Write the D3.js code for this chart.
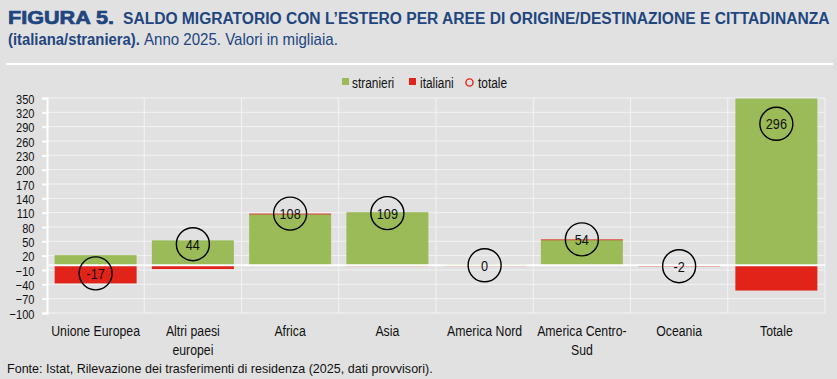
<!DOCTYPE html>
<html>
<head>
<meta charset="utf-8">
<script src="https://cdn.jsdelivr.net/npm/d3@7"></script>
<style>
  body { margin: 0; background: #e1e1e1; }
  svg { display: block; }
  text { font-family: "Liberation Sans", Arial, sans-serif; }
</style>
</head>
<body>
<svg id="chart" width="837" height="379"></svg>
<script>
// categories and series (thousands)
const categories = ["Unione Europea", "Altri paesi europei", "Africa", "Asia", "America Nord", "America Centro-Sud", "Oceania", "Totale"];
const categoryLines = [["Unione Europea"], ["Altri paesi", "europei"], ["Africa"], ["Asia"], ["America Nord"], ["America Centro-", "Sud"], ["Oceania"], ["Totale"]];
const stranieri = [21, 52, 107, 111, 2, 53, 0.4, 349];
const italiani = [-38, -8, 1, -2, -2, 1, -2.4, -53];
const totale = [-17, 44, 108, 109, 0, 54, -2, 296];
const yTicks = [350, 320, 290, 260, 230, 200, 170, 140, 110, 80, 50, 20, -10, -40, -70, -100];

const GREEN = "#9bbb59", RED = "#e2231a", BLUE = "#21467f";
const NARROW = 0.82;  // Arial Narrow look from Liberation Sans

const svg = d3.select("#chart");
const margin = { left: 47, right: 12, top: 98, bottom: 66 };
const W = 837, H = 379;

// squeeze a text horizontally, either by fixed factor or to fit a width
function squeeze(sel, k, width) {
  sel.each(function () {
    const t = d3.select(this);
    const x = +t.attr("x") || 0, y = +t.attr("y") || 0;
    let f = k;
    if (width) f = width / this.getComputedTextLength();
    t.attr("x", 0).attr("y", 0).attr("transform", `translate(${x},${y}) scale(${f},1)`);
  });
  return sel;
}

// title
svg.append("text").attr("x", 8).attr("y", 24).attr("fill", BLUE)
  .attr("font-weight", "bold").attr("font-size", 18)
  .attr("stroke", BLUE).attr("stroke-width", 0.7)
  .text("FIGURA 5.").call(squeeze, 1, 106);
svg.append("text").attr("x", 123).attr("y", 24)
  .attr("fill", BLUE).attr("font-weight", "bold").attr("font-size", 17)
  .text("SALDO MIGRATORIO CON L\u2019ESTERO PER AREE DI ORIGINE/DESTINAZIONE E CITTADINANZA")
  .call(squeeze, 1, 707);
svg.append("text").attr("x", 8).attr("y", 45)
  .attr("fill", BLUE).attr("font-weight", "bold").attr("font-size", 17)
  .text("(italiana/straniera).").call(squeeze, 1, 132);
svg.append("text").attr("x", 144).attr("y", 45)
  .attr("fill", BLUE).attr("font-size", 17)
  .text("Anno 2025. Valori in migliaia.").call(squeeze, 1, 194);

// white rule under the title
svg.append("rect").attr("x", 6).attr("y", 63).attr("width", 827).attr("height", 2).attr("fill", "#fff");

const x = d3.scaleBand().domain(categories).range([margin.left, W - margin.right]).paddingInner(0.157).paddingOuter(0.0785);
const y = d3.scaleLinear().domain([-100, 350]).range([H - margin.bottom, margin.top]);

// gridlines
svg.append("g").selectAll("line").data(yTicks).join("line")
  .attr("x1", margin.left).attr("x2", W - margin.right)
  .attr("y1", d => y(d)).attr("y2", d => y(d))
  .attr("stroke", "#f3f3f3").attr("stroke-width", 1);
const bounds = categories.map(c => x(c) - x.step() * x.paddingInner() / 2).concat([W - margin.right]);
svg.append("g").selectAll("line").data(bounds.slice(1)).join("line")
  .attr("x1", d => d).attr("x2", d => d)
  .attr("y1", y(350)).attr("y2", y(-100))
  .attr("stroke", "#f3f3f3").attr("stroke-width", 1);

// y axis
const yAxis = d3.axisLeft(y).tickValues(yTicks).tickSize(5);
const ga = svg.append("g").attr("transform", `translate(${margin.left},0)`).call(yAxis);
ga.select(".domain").attr("stroke", "#fff").attr("stroke-width", 2);
ga.selectAll(".tick line").attr("stroke", "#fff").attr("stroke-width", 2);
ga.selectAll(".tick text").attr("font-size", 13.5).attr("fill", "#111")
  .attr("x", -12.5).attr("dy", null).attr("y", 5).call(squeeze, NARROW);

// stacked bars (positives up, negatives down)
const segs = [];
categories.forEach((c, i) => {
  let pos = 0, neg = 0;
  [[stranieri[i], GREEN], [italiani[i], RED]].forEach(([v, col]) => {
    if (v >= 0) { segs.push({ c, y0: pos, y1: pos + v, col }); pos += v; }
    else { segs.push({ c, y0: neg + v, y1: neg, col }); neg += v; }
  });
});
svg.append("g").selectAll("rect").data(segs).join("rect")
  .attr("x", d => x(d.c)).attr("width", x.bandwidth())
  .attr("y", d => y(d.y1)).attr("height", d => Math.max(0.8, y(d.y0) - y(d.y1)))
  .attr("fill", d => d.col);

// zero line
svg.append("line").attr("x1", margin.left).attr("x2", W - margin.right)
  .attr("y1", y(0)).attr("y2", y(0)).attr("stroke", "#fff").attr("stroke-width", 2);

// totals
const tg = svg.append("g").selectAll("g").data(categories).join("g")
  .attr("transform", (d, i) => `translate(${x(d) + x.bandwidth() / 2},${y(totale[i])})`);
tg.append("circle").attr("r", 16.5).attr("fill", "none").attr("stroke", "#000").attr("stroke-width", 1.4);
tg.append("text").attr("text-anchor", "middle").attr("y", 5.5)
  .attr("font-size", 15.5).attr("fill", "#111").text((d, i) => totale[i]).call(squeeze, NARROW);

// category labels
const labelData = [];
categories.forEach((c, i) => categoryLines[i].forEach((s, j) => labelData.push({ c, s, j })));
svg.append("g").selectAll("text").data(labelData).join("text")
  .attr("text-anchor", "middle").attr("font-size", 15).attr("fill", "#111")
  .attr("x", d => x(d.c) + x.bandwidth() / 2).attr("y", d => 336 + d.j * 19)
  .text(d => d.s).call(squeeze, NARROW);

// legend
const lg = svg.append("g");
lg.append("rect").attr("x", 342).attr("y", 78).attr("width", 7).attr("height", 7).attr("fill", GREEN);
lg.append("rect").attr("x", 409).attr("y", 78).attr("width", 7).attr("height", 7).attr("fill", RED);
lg.append("circle").attr("cx", 469.5).attr("cy", 82.5).attr("r", 3.6).attr("fill", "none").attr("stroke", RED).attr("stroke-width", 1.4);
lg.selectAll("text").data([[352, "stranieri"], [420, "italiani"], [478, "totale"]]).join("text")
  .attr("x", d => d[0]).attr("y", 87.5).attr("font-size", 14.5).attr("fill", "#111")
  .text(d => d[1]).call(squeeze, NARROW);

// source
svg.append("text").attr("x", 7).attr("y", 373).attr("font-size", 13).attr("fill", "#111")
  .text("Fonte: Istat, Rilevazione dei trasferimenti di residenza (2025, dati provvisori).")
  .call(squeeze, 1, 426);
</script>
</body>
</html>
